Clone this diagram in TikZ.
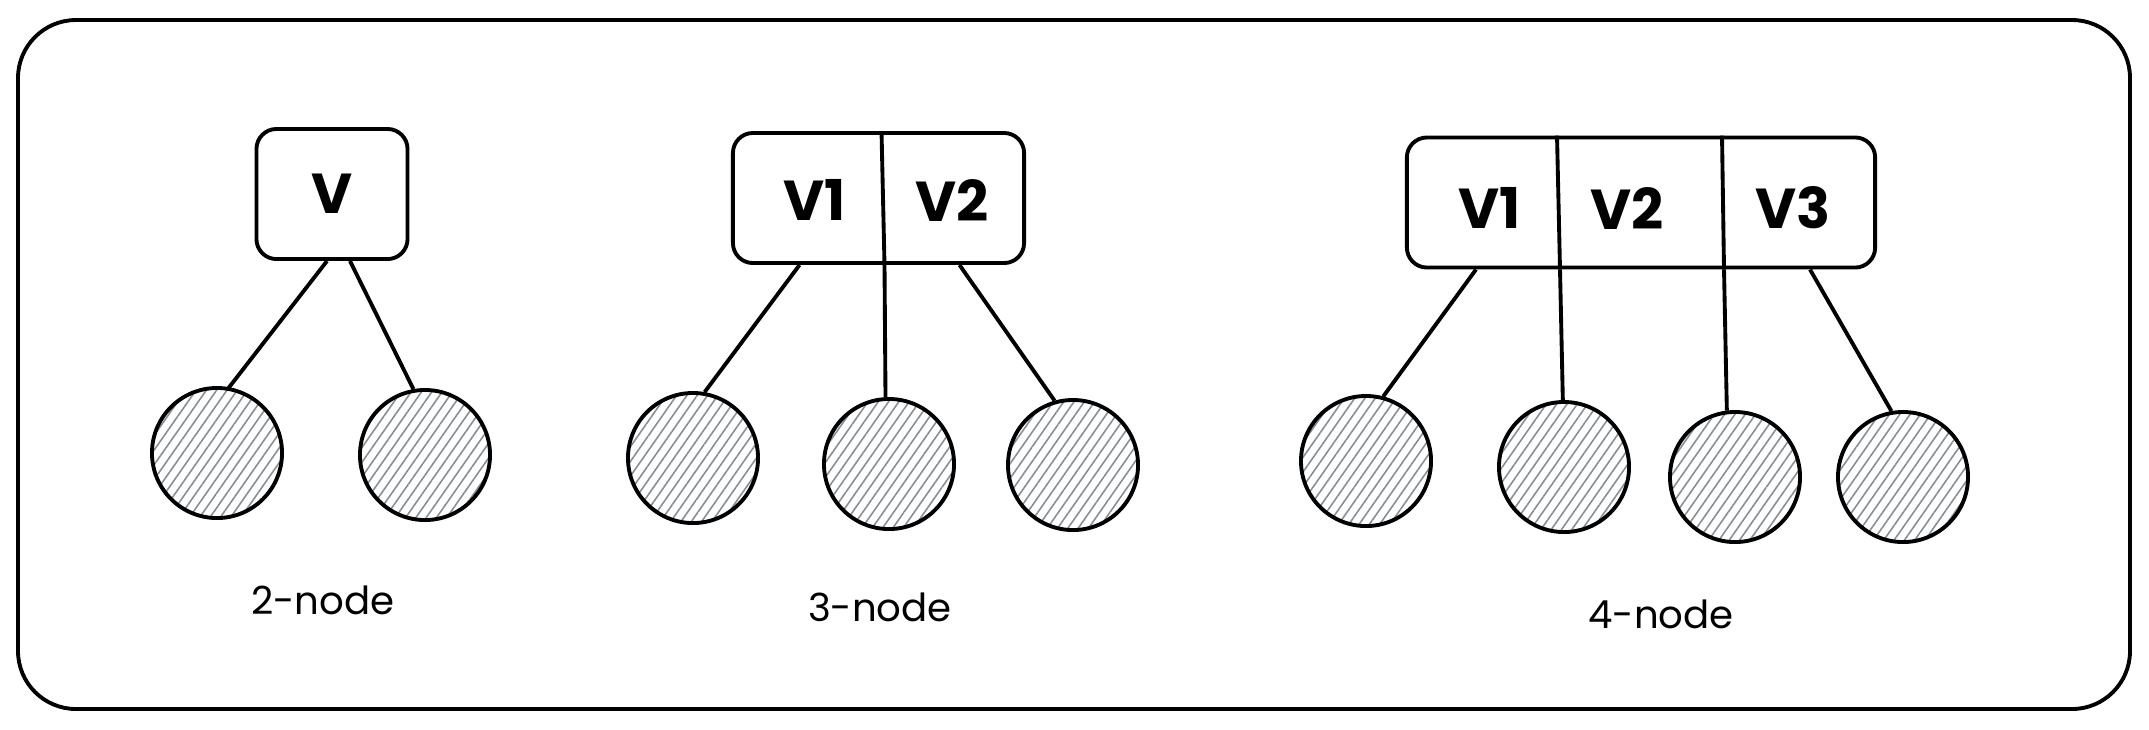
\documentclass[tikz,border=0pt]{standalone}
\usepackage{fontspec}
\setmainfont{Poppins}
\usepackage{tikz}
\usetikzlibrary{calc,positioning,patterns.meta}
\definecolor{hatchgray}{RGB}{134,142,150}

\begin{document}
\begin{tikzpicture}[x=0.01cm, y=-0.01cm, line width=1.1pt,
    frame/.style={draw, rounded corners=5.8mm},
    vbox/.style={draw, rounded corners=2mm, minimum height=13mm, inner sep=0pt},
    vtxt/.style={font=\fontsize{16}{16}\selectfont\bfseries},
    leaf/.style={circle, draw, minimum size=13mm, inner sep=0pt,
      pattern={Lines[angle=55, distance=2.4pt, line width=0.45pt]}, pattern color=hatchgray},
    grp/.style={font=\fontsize{11}{11}\selectfont}]
  \useasboundingbox (0,0) rectangle (2149,729);
  % Outer frame
  \draw[frame] (18,20) rectangle (2130,709);
  % Value boxes
  \node[vbox, minimum width=15.1mm] (v) at (332,194) {};
  \node[vbox, minimum width=29.1mm] (w) at (878.5,198) {};
  \node[vbox, minimum width=46.8mm] (u) at (1641,202.5) {};
  % Dividers
  \coordinate (w-d) at ($(w.south)+(6,0)$);
  \draw ($(w.north)+(3,0)$) -- (w-d);
  \coordinate (u-d1) at ($(u.south)+(-81,0)$);
  \coordinate (u-d2) at ($(u.south)+(83,0)$);
  \draw ($(u.north)+(-84,0)$) -- (u-d1);
  \draw ($(u.north)+(81,0)$) -- (u-d2);
  % Labels in boxes
  \node[vtxt] (v-t) at (v) {V};
  \foreach \n/\x/\y/\t in {w-t1/815/200/V1, w-t2/952/200/V2,
      u-t1/1490/208/V1, u-t2/1627/208/V2, u-t3/1793/208/V3}{
    \node[vtxt] (\n) at (\x,\y) {\t};
  }
  % Leaves
  \foreach \n/\x/\y in {a1/217/453, a2/425/455,
      b1/693/458, b2/889/464, b3/1073/465,
      c1/1366/461, c2/1564/467, c3/1735/477, c4/1903/477}{
    \node[leaf] (\n) at (\x,\y) {};
  }
  % Start points on the box bottoms
  \coordinate (v-s1) at ($(v.south)+(-5,0)$);
  \coordinate (v-s2) at ($(v.south)+(18,0)$);
  \coordinate (w-s1) at ($(w.south)+(-79,0)$);
  \coordinate (w-s3) at ($(w.south)+(81,0)$);
  \coordinate (u-s1) at ($(u.south)+(-165,0)$);
  \coordinate (u-s4) at ($(u.south)+(169,0)$);
  % Connectors
  \foreach \s/\t in {v-s1/a1.80, v-s2/a2.100,
      w-s1/b1.80, w-d/b2.93, w-s3/b3.106,
      u-s1/c1.75, u-d1/c2.91, u-d2/c3.97, u-s4/c4.100}{
    \draw (\s) -- (\t);
  }
  % Group names
  \node[grp] (l2) at (323,600) {2-node};
  \node[grp] (l3) at (880,607) {3-node};
  \node[grp] (l4) at (1661,614) {4-node};
\end{tikzpicture}
\end{document}
